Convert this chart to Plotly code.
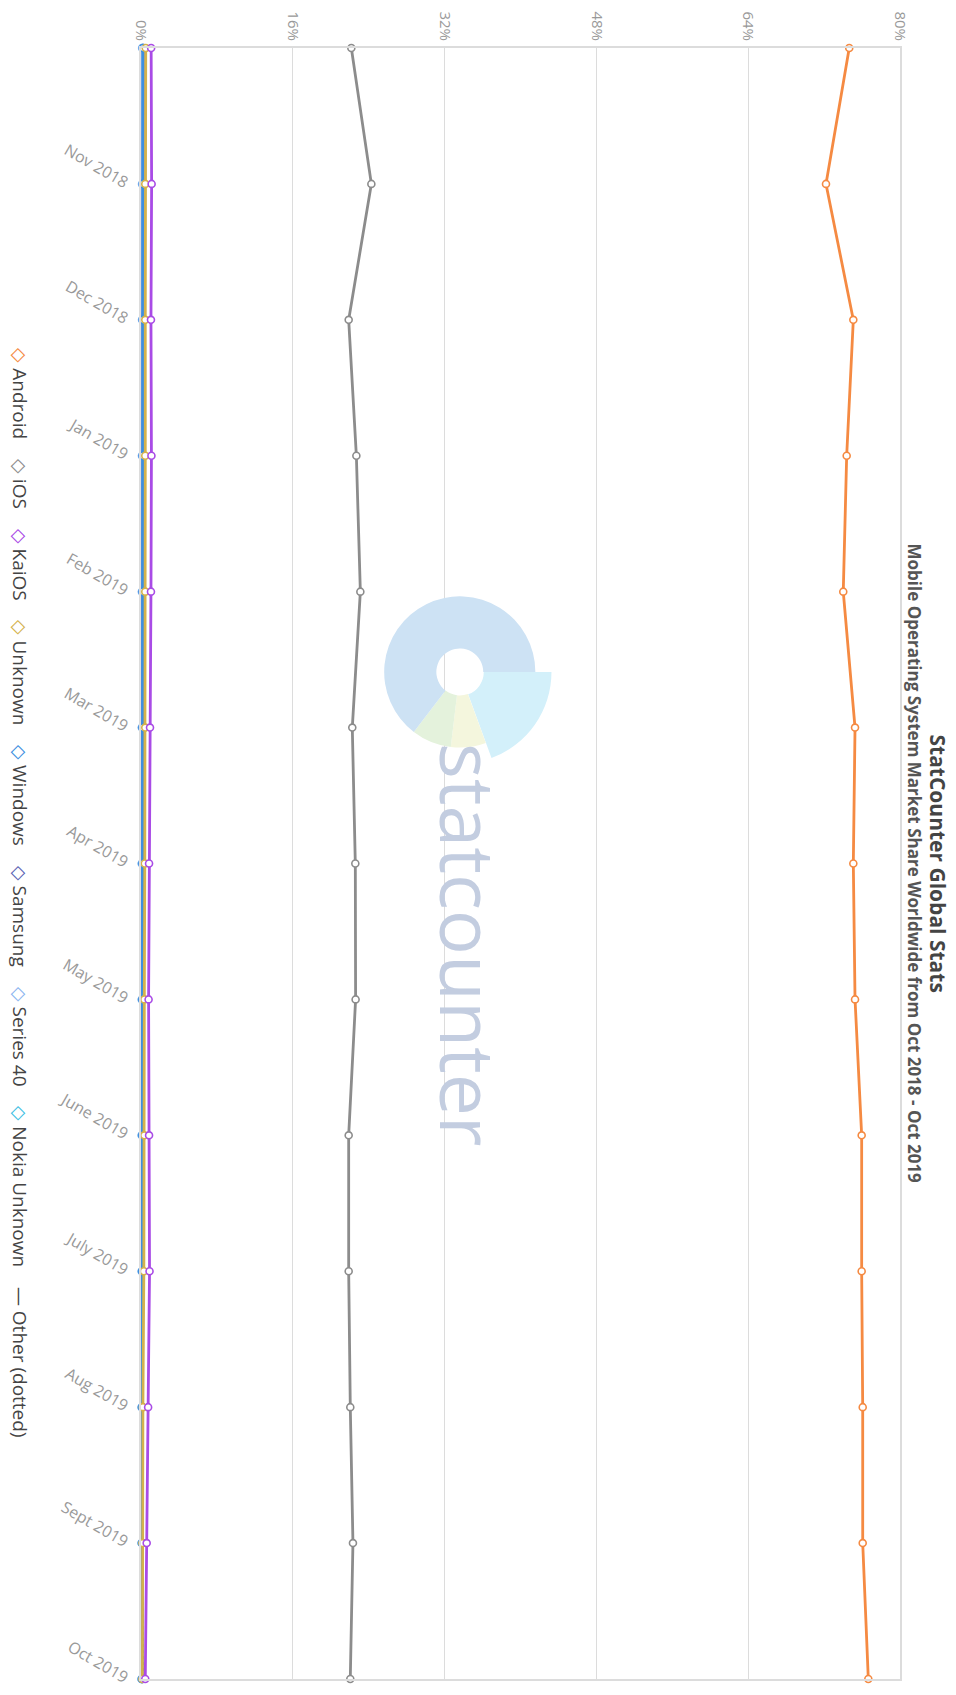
import plotly.graph_objects as go

months = ["Oct 2018", "Nov 2018", "Dec 2018", "Jan 2019", "Feb 2019", "Mar 2019",
          "Apr 2019", "May 2019", "June 2019", "July 2019", "Aug 2019", "Sept 2019", "Oct 2019"]

android = [74.65, 72.2, 75.08, 74.38, 74.02, 75.26, 75.08, 75.26, 75.96, 75.96, 76.07, 76.07, 76.66]
ios = [22.17, 24.28, 21.89, 22.7, 23.12, 22.27, 22.59, 22.62, 21.89, 21.89, 22.06, 22.34, 22.06]
kaios = [1.07, 1.12, 1.05, 1.1, 1.05, 0.95, 0.85, 0.8, 0.85, 0.9, 0.75, 0.6, 0.45]
unknown = [0.5, 0.45, 0.45, 0.45, 0.45, 0.45, 0.4, 0.35, 0.35, 0.3, 0.2, 0.15, 0.15]
windows = [0.2, 0.19, 0.18, 0.17, 0.16, 0.15, 0.15, 0.14, 0.13, 0.12, 0.11, 0.1, 0.1]
samsung = [0.25, 0.24, 0.25, 0.22, 0.22, 0.2, 0.2, 0.18, 0.17, 0.16, 0.15, 0.14, 0.13]
series40 = [0.12, 0.11, 0.11, 0.1, 0.09, 0.09, 0.08, 0.08, 0.07, 0.07, 0.06, 0.06, 0.05]
nokia_unknown = [0.15, 0.14, 0.14, 0.13, 0.12, 0.11, 0.1, 0.1, 0.09, 0.09, 0.08, 0.08, 0.07]
other = [0.2, 0.2, 0.2, 0.2, 0.2, 0.2, 0.2, 0.2, 0.2, 0.2, 0.2, 0.2, 0.2]

series_names = ["Android", "iOS", "KaiOS", "Unknown", "Windows", "Samsung", "Series 40", "Nokia Unknown"]
series_values = [android, ios, kaios, unknown, windows, samsung, series40, nokia_unknown]
series_colors = ["#f58a42", "#8c8c8c", "#a94be6", "#d4b24c", "#3d8fe0", "#5a64b4", "#8cb6f0", "#3fbfe3"]

pct_ticks = [0, 16, 32, 48, 64, 80]
pct_labels = ["0%", "16%", "32%", "48%", "64%", "80%"]

logo_values = [19.4, 7.5, 8.5, 64.6]
logo_outer_colors = ["#d3f0fa", "rgba(0,0,0,0)", "rgba(0,0,0,0)", "rgba(0,0,0,0)"]
logo_inner_colors = ["rgba(0,0,0,0)", "#f4f6dd", "#e4f2dc", "#cde2f4"]

fig = go.Figure()

# watermark logo (outer cyan slice, then inner slices)
fig.add_trace(go.Pie(values=logo_values, marker=dict(colors=logo_outer_colors, line=dict(width=0)),
                     hole=0.26, sort=False, direction="clockwise", rotation=90,
                     textinfo="none", hoverinfo="skip", showlegend=False,
                     domain=dict(x=[0.299, 0.5415], y=[0.5613, 0.6735])))
fig.add_trace(go.Pie(values=logo_values, marker=dict(colors=logo_inner_colors, line=dict(width=0)),
                     hole=0.31, sort=False, direction="clockwise", rotation=90,
                     textinfo="none", hoverinfo="skip", showlegend=False,
                     domain=dict(x=[0.320, 0.520], y=[0.5711, 0.6638])))

fig.add_trace(go.Scatter(x=other, y=months, mode="lines", line=dict(color="#2f3b46", width=2, dash="dot"),
                         showlegend=False, cliponaxis=False, hoverinfo="skip"))

for name, vals, col in reversed(list(zip(series_names, series_values, series_colors))):
    fig.add_trace(go.Scatter(
        x=vals, y=months, mode="lines+markers", name=name,
        line=dict(color=col, width=2.8),
        marker=dict(symbol="circle", size=7, color="white", line=dict(color=col, width=1.6)),
        showlegend=False, cliponaxis=False))

legend_parts = []
for name, col in zip(series_names, series_colors):
    legend_parts.append(f"<span style='color:{col}'>◇</span> {name}")
legend_parts.append("— Other (dotted)")
legend_text = "&nbsp;&nbsp;&nbsp;&nbsp;".join(legend_parts)

fig.update_layout(
    width=956, height=1695,
    margin=dict(l=141, r=56, t=48, b=7),
    paper_bgcolor="white", plot_bgcolor="white",
    font=dict(family="Open Sans", color="#555"),
    xaxis=dict(range=[0, 80], side="top", tickvals=pct_ticks, ticktext=pct_labels,
               tickangle=90, tickfont=dict(size=15, color="#999"),
               showgrid=True, gridcolor="#dcdcdc", gridwidth=1, zeroline=False,
               showline=True, linecolor="#dcdcdc", linewidth=1.5, mirror=True, ticks=""),
    yaxis=dict(type="category", categoryorder="array", categoryarray=months,
               range=[12, 0], tickvals=months[1:], tickangle=30, ticklabelstandoff=8,
               tickfont=dict(size=16, color="#999"), showgrid=False, zeroline=False,
               showline=True, linecolor="#dcdcdc", linewidth=1.5, mirror=True, ticks=""),
    annotations=[
        dict(text="<b>StatCounter Global Stats</b>", xref="paper", yref="paper",
             x=(938 - 141) / 759, y=1 - (868 - 48) / 1640, showarrow=False, textangle=90,
             font=dict(size=21, color="#444"), xanchor="center", yanchor="middle"),
        dict(text="<b>Mobile Operating System Market Share Worldwide from Oct 2018 - Oct 2019</b>",
             xref="paper", yref="paper",
             x=(914 - 141) / 759, y=1 - (868 - 48) / 1640, showarrow=False, textangle=90,
             font=dict(size=17, color="#555"), xanchor="center", yanchor="middle"),
        dict(text="statcounter", xref="paper", yref="paper",
             x=(469 - 141) / 759, y=1 - (949 - 48) / 1640, showarrow=False, textangle=90,
             font=dict(size=75, color="#c3cde0"), xanchor="center", yanchor="middle"),
        dict(text=legend_text, xref="paper", yref="paper",
             x=(20 - 141) / 759, y=1 - (897 - 48) / 1640, showarrow=False, textangle=90,
             font=dict(size=19, color="#444"), xanchor="center", yanchor="middle"),
    ],
)

fig.write_html("out.html")
